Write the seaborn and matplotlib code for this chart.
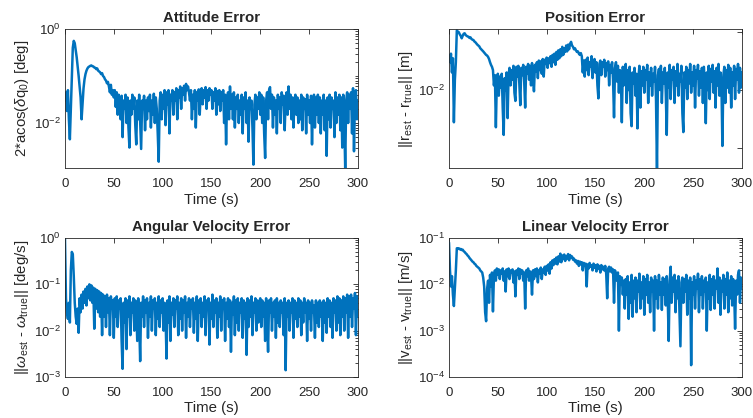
import numpy as np
import pandas as pd
import matplotlib
matplotlib.use('Agg')
import matplotlib.pyplot as plt
from matplotlib.ticker import NullFormatter
import seaborn as sns

TITLE_FONTSIZE = 10.8
AX_LABEL_FONTSIZE = 10.8
TICK_FONTSIZE = 9.5
LINE_COLOR = '#0072BD'
AX_COLOR = '#262626'

# sample times (1 s)
time_s = np.arange(0, 301)

att_err = [
    0.030, 0.045, 0.018, 0.050, 0.012, 0.0045, 0.020, 0.10, 0.40, 0.56,
    0.50, 0.36, 0.25, 0.16, 0.10, 0.060, 0.035, 0.012, 0.025, 0.055,
    0.085, 0.11, 0.13, 0.145, 0.155, 0.16, 0.165, 0.168, 0.162, 0.16,
    0.152, 0.15, 0.14, 0.145, 0.13, 0.125, 0.12, 0.11, 0.115, 0.10,
    0.095, 0.085, 0.080, 0.07, 0.075, 0.06, 0.045, 0.065, 0.04, 0.05,
    0.035, 0.05, 0.022, 0.045, 0.015, 0.04, 0.03, 0.012, 0.038, 0.005,
    0.03, 0.02, 0.04, 0.01, 0.035, 0.008, 0.003, 0.03, 0.015, 0.04,
    0.02, 0.035, 0.009, 0.0035, 0.03, 0.012, 0.04, 0.01, 0.0028, 0.03,
    0.02, 0.038, 0.007, 0.03, 0.012, 0.035, 0.018, 0.04, 0.008, 0.03,
    0.015, 0.042, 0.01, 0.035, 0.02, 0.006, 0.0015, 0.03, 0.045, 0.012,
    0.04, 0.02, 0.05, 0.009, 0.045, 0.025, 0.05, 0.006, 0.04, 0.03,
    0.05, 0.015, 0.045, 0.03, 0.055, 0.012, 0.05, 0.035, 0.06, 0.02,
    0.055, 0.04, 0.062, 0.03, 0.068, 0.05, 0.06, 0.045, 0.03, 0.05,
    0.012, 0.04, 0.02, 0.05, 0.008, 0.045, 0.03, 0.052, 0.015, 0.045,
    0.055, 0.025, 0.05, 0.035, 0.058, 0.02, 0.05, 0.03, 0.055, 0.04,
    0.05, 0.02, 0.045, 0.03, 0.055, 0.015, 0.048, 0.025, 0.05, 0.018,
    0.045, 0.03, 0.05, 0.01, 0.04, 0.0035, 0.03, 0.045, 0.012, 0.06,
    0.02, 0.04, 0.012, 0.045, 0.008, 0.035, 0.02, 0.04, 0.01, 0.03,
    0.015, 0.04, 0.006, 0.035, 0.02, 0.045, 0.01, 0.03, 0.004, 0.035,
    0.02, 0.03, 0.008, 0.0013, 0.025, 0.04, 0.012, 0.035, 0.02, 0.045,
    0.015, 0.04, 0.01, 0.035, 0.006, 0.0018, 0.03, 0.045, 0.012, 0.05,
    0.058, 0.02, 0.04, 0.008, 0.035, 0.015, 0.03, 0.006, 0.04, 0.02,
    0.035, 0.01, 0.045, 0.025, 0.038, 0.007, 0.03, 0.045, 0.015, 0.06,
    0.02, 0.04, 0.012, 0.035, 0.008, 0.03, 0.04, 0.015, 0.035, 0.01,
    0.03, 0.012, 0.04, 0.007, 0.035, 0.02, 0.032, 0.006, 0.04, 0.015,
    0.03, 0.01, 0.038, 0.0035, 0.025, 0.04, 0.008, 0.035, 0.015, 0.04,
    0.01, 0.035, 0.006, 0.03, 0.015, 0.04, 0.007, 0.03, 0.002, 0.035,
    0.012, 0.04, 0.008, 0.035, 0.02, 0.03, 0.005, 0.045, 0.01, 0.035,
    0.015, 0.04, 0.007, 0.035, 0.003, 0.04, 0.012, 0.0011, 0.03, 0.045,
    0.01, 0.04, 0.02, 0.045, 0.006, 0.055, 0.0025, 0.035, 0.05, 0.012,
    0.03,
]

pos_err = [
    0.040, 0.030, 0.042, 0.020, 0.035, 0.0028, 0.015, 0.030, 0.105, 0.10,
    0.098, 0.090, 0.085, 0.077, 0.085, 0.092, 0.094, 0.088, 0.085, 0.083,
    0.082, 0.078, 0.080, 0.075, 0.073, 0.072, 0.068, 0.066, 0.063, 0.060,
    0.058, 0.056, 0.052, 0.050, 0.048, 0.046, 0.044, 0.042, 0.040, 0.039,
    0.037, 0.034, 0.030, 0.027, 0.025, 0.022, 0.012, 0.018, 0.0023, 0.015,
    0.019, 0.008, 0.017, 0.011, 0.019, 0.005, 0.0017, 0.016, 0.010, 0.020,
    0.0033, 0.018, 0.024, 0.012, 0.022, 0.015, 0.026, 0.009, 0.0065, 0.025,
    0.017, 0.026, 0.013, 0.0055, 0.024, 0.018, 0.027, 0.014, 0.005, 0.025,
    0.019, 0.028, 0.015, 0.026, 0.012, 0.029, 0.018, 0.0095, 0.027, 0.021,
    0.030, 0.016, 0.032, 0.022, 0.031, 0.019, 0.034, 0.017, 0.033, 0.028,
    0.036, 0.024, 0.035, 0.029, 0.038, 0.025, 0.040, 0.030, 0.042, 0.027,
    0.045, 0.033, 0.048, 0.035, 0.050, 0.038, 0.055, 0.040, 0.052, 0.045,
    0.058, 0.046, 0.060, 0.050, 0.062, 0.067, 0.058, 0.055, 0.050, 0.052,
    0.048, 0.045, 0.046, 0.042, 0.040, 0.043, 0.038, 0.020, 0.032, 0.017,
    0.033, 0.022, 0.036, 0.018, 0.030, 0.025, 0.038, 0.016, 0.028, 0.034,
    0.020, 0.030, 0.012, 0.0072, 0.028, 0.032, 0.018, 0.030, 0.025, 0.033,
    0.017, 0.029, 0.022, 0.031, 0.012, 0.027, 0.020, 0.030, 0.015, 0.0034,
    0.024, 0.030, 0.014, 0.026, 0.009, 0.022, 0.018, 0.0028, 0.025, 0.012,
    0.020, 0.028, 0.006, 0.022, 0.010, 0.025, 0.004, 0.0024, 0.020, 0.013,
    0.024, 0.008, 0.019, 0.0022, 0.016, 0.026, 0.005, 0.021, 0.012, 0.025,
    0.009, 0.022, 0.015, 0.027, 0.006, 0.020, 0.012, 0.024, 0.008, 0.019,
    0.014, 0.025, 0.007, 0.0004, 0.018, 0.023, 0.010, 0.026, 0.006, 0.020,
    0.013, 0.024, 0.009, 0.0017, 0.020, 0.011, 0.027, 0.007, 0.022, 0.015,
    0.025, 0.006, 0.021, 0.012, 0.028, 0.008, 0.019, 0.014, 0.026, 0.004,
    0.0019, 0.020, 0.011, 0.025, 0.007, 0.022, 0.013, 0.028, 0.009, 0.020,
    0.012, 0.026, 0.005, 0.022, 0.016, 0.027, 0.008, 0.021, 0.011, 0.024,
    0.006, 0.025, 0.013, 0.0027, 0.020, 0.010, 0.026, 0.007, 0.023, 0.014,
    0.027, 0.009, 0.021, 0.005, 0.024, 0.012, 0.028, 0.008, 0.020, 0.013,
    0.0011, 0.018, 0.025, 0.006, 0.022, 0.011, 0.027, 0.009, 0.024, 0.005,
    0.020, 0.012, 0.026, 0.007, 0.023, 0.015, 0.028, 0.009, 0.024, 0.011,
    0.020,
]

angvel_err = [
    0.95, 0.05, 0.025, 0.018, 0.04, 0.015, 0.2, 0.5, 0.45, 0.15,
    0.04, 0.02, 0.014, 0.03, 0.009, 0.05, 0.025, 0.06, 0.03, 0.07,
    0.04, 0.08, 0.035, 0.09, 0.05, 0.10, 0.045, 0.095, 0.04, 0.085,
    0.011, 0.08, 0.03, 0.075, 0.025, 0.07, 0.02, 0.065, 0.008, 0.06,
    0.02, 0.055, 0.012, 0.06, 0.025, 0.05, 0.008, 0.055, 0.03, 0.045,
    0.007, 0.05, 0.02, 0.055, 0.012, 0.045, 0.03, 0.05, 0.006, 0.0015,
    0.04, 0.015, 0.05, 0.004, 0.045, 0.02, 0.055, 0.008, 0.04, 0.025,
    0.05, 0.01, 0.045, 0.03, 0.006, 0.05, 0.015, 0.0022, 0.04, 0.02,
    0.055, 0.012, 0.045, 0.025, 0.05, 0.007, 0.04, 0.02, 0.055, 0.01,
    0.045, 0.03, 0.05, 0.008, 0.04, 0.018, 0.055, 0.012, 0.045, 0.025,
    0.05, 0.01, 0.04, 0.02, 0.0025, 0.045, 0.015, 0.055, 0.006, 0.04,
    0.022, 0.05, 0.012, 0.045, 0.03, 0.055, 0.008, 0.04, 0.018, 0.05,
    0.01, 0.045, 0.025, 0.055, 0.007, 0.04, 0.02, 0.05, 0.012, 0.045,
    0.03, 0.05, 0.009, 0.04, 0.018, 0.055, 0.006, 0.045, 0.025, 0.05,
    0.012, 0.04, 0.02, 0.055, 0.008, 0.045, 0.03, 0.05, 0.005, 0.04,
    0.018, 0.06, 0.012, 0.045, 0.025, 0.05, 0.007, 0.04, 0.02, 0.055,
    0.01, 0.045, 0.03, 0.05, 0.006, 0.04, 0.018, 0.05, 0.012, 0.045,
    0.0035, 0.04, 0.022, 0.055, 0.008, 0.045, 0.015, 0.05, 0.01, 0.04,
    0.025, 0.05, 0.007, 0.045, 0.018, 0.04, 0.003, 0.05, 0.012, 0.045,
    0.02, 0.055, 0.008, 0.04, 0.025, 0.05, 0.01, 0.045, 0.015, 0.04,
    0.05, 0.012, 0.045, 0.02, 0.04, 0.006, 0.05, 0.015, 0.0035, 0.045,
    0.025, 0.05, 0.01, 0.04, 0.02, 0.045, 0.007, 0.05, 0.015, 0.04,
    0.012, 0.045, 0.025, 0.04, 0.008, 0.05, 0.0014, 0.04, 0.02, 0.045,
    0.01, 0.04, 0.025, 0.05, 0.007, 0.045, 0.018, 0.04, 0.012, 0.05,
    0.02, 0.045, 0.008, 0.04, 0.015, 0.05, 0.025, 0.04, 0.006, 0.045,
    0.018, 0.04, 0.01, 0.045, 0.025, 0.035, 0.007, 0.045, 0.015, 0.04,
    0.012, 0.045, 0.02, 0.04, 0.006, 0.045, 0.015, 0.04, 0.009, 0.05,
    0.02, 0.045, 0.012, 0.04, 0.007, 0.05, 0.025, 0.045, 0.01, 0.055,
    0.015, 0.05, 0.008, 0.045, 0.02, 0.055, 0.01, 0.05, 0.025, 0.06,
    0.007, 0.055, 0.02, 0.06, 0.012, 0.05, 0.03, 0.065, 0.008, 0.055,
    0.02,
]

linvel_err = [
    0.08, 0.02, 0.009, 0.015, 0.006, 0.0034, 0.008, 0.02, 0.06, 0.058,
    0.06, 0.057, 0.058, 0.055, 0.056, 0.052, 0.05, 0.047, 0.045, 0.042,
    0.04, 0.037, 0.035, 0.033, 0.031, 0.03, 0.028, 0.027, 0.025, 0.024,
    0.023, 0.022, 0.02, 0.019, 0.018, 0.014, 0.009, 0.0025, 0.0016, 0.008,
    0.012, 0.004, 0.016, 0.009, 0.018, 0.0026, 0.015, 0.02, 0.012, 0.022,
    0.016, 0.021, 0.013, 0.02, 0.017, 0.022, 0.012, 0.019, 0.007, 0.021,
    0.015, 0.022, 0.013, 0.02, 0.018, 0.021, 0.011, 0.019, 0.0055, 0.02,
    0.016, 0.022, 0.013, 0.021, 0.017, 0.02, 0.012, 0.018, 0.003, 0.02,
    0.015, 0.022, 0.012, 0.019, 0.016, 0.006, 0.02, 0.013, 0.021, 0.015,
    0.022, 0.011, 0.02, 0.017, 0.023, 0.013, 0.021, 0.018, 0.024, 0.016,
    0.025, 0.02, 0.027, 0.017, 0.03, 0.022, 0.033, 0.026, 0.035, 0.028,
    0.038, 0.027, 0.04, 0.031, 0.046, 0.03, 0.042, 0.035, 0.044, 0.032,
    0.041, 0.036, 0.045, 0.033, 0.043, 0.038, 0.04, 0.034, 0.036, 0.031,
    0.033, 0.028, 0.032, 0.025, 0.031, 0.027, 0.03, 0.02, 0.029, 0.026,
    0.028, 0.009, 0.027, 0.022, 0.029, 0.024, 0.026, 0.02, 0.028, 0.023,
    0.026, 0.019, 0.027, 0.022, 0.025, 0.018, 0.026, 0.021, 0.024, 0.02,
    0.025, 0.017, 0.005, 0.022, 0.024, 0.019, 0.023, 0.018, 0.021, 0.004,
    0.02, 0.016, 0.012, 0.018, 0.001, 0.015, 0.01, 0.014, 0.006, 0.012,
    0.003, 0.013, 0.006, 0.015, 0.0018, 0.011, 0.004, 0.016, 0.002, 0.012,
    0.005, 0.014, 0.0025, 0.012, 0.007, 0.017, 0.003, 0.011, 0.005, 0.015,
    0.0022, 0.013, 0.006, 0.016, 0.004, 0.011, 0.0025, 0.014, 0.007, 0.012,
    0.001, 0.015, 0.005, 0.012, 0.003, 0.016, 0.006, 0.011, 0.0028, 0.014,
    0.006, 0.013, 0.0035, 0.015, 0.005, 0.0006, 0.012, 0.024, 0.004, 0.014,
    0.007, 0.016, 0.0025, 0.012, 0.005, 0.015, 0.0028, 0.00046, 0.011, 0.014,
    0.004, 0.013, 0.007, 0.016, 0.0022, 0.012, 0.005, 0.014, 0.00018, 0.011,
    0.006, 0.015, 0.003, 0.012, 0.008, 0.017, 0.0025, 0.013, 0.006, 0.015,
    0.003, 0.012, 0.007, 0.014, 0.001, 0.011, 0.005, 0.016, 0.0028, 0.013,
    0.006, 0.015, 0.003, 0.012, 0.008, 0.022, 0.004, 0.014, 0.0022, 0.012,
    0.007, 0.016, 0.003, 0.013, 0.006, 0.018, 0.0025, 0.012, 0.005, 0.015,
    0.0035, 0.013, 0.007, 0.0011, 0.012, 0.006, 0.016, 0.02, 0.004, 0.014,
    0.008,
]

titles = ['Attitude Error', 'Position Error',
          'Angular Velocity Error', 'Linear Velocity Error']
ylabels = [r'2*acos($\delta$q$_0$) [deg]',
           r'||r$_{\mathrm{est}}$ - r$_{\mathrm{true}}$|| [m]',
           r'||$\omega_{\mathrm{est}}$ - $\omega_{\mathrm{true}}$|| [deg/s]',
           r'||v$_{\mathrm{est}}$ - v$_{\mathrm{true}}$|| [m/s]']
series = [att_err, pos_err, angvel_err, linvel_err]
xticks = [0, 50, 100, 150, 200, 250, 300]


def minor_log_ticks(lo, hi, majors):
    out = []
    for e in range(-5, 1):
        for k in range(1, 10):
            v = k * 10.0 ** e
            if lo <= v <= hi and not any(np.isclose(v, m) for m in majors):
                out.append(v)
    return out


# axes settings per panel: rect (fig coords), ylim, major ticks, labelled majors, minors on
panel_cfg = [
    dict(rect=[0.0863, 0.598, 0.389, 0.3325], ylim=(1.1e-3, 1.0),
         majors=[1e-2, 1.0], labels=[1e-2, 1.0], minors=True),
    dict(rect=[0.5963, 0.598, 0.389, 0.3325], ylim=(4.6e-4, 0.111),
         majors=[1e-3, 1e-2, 1e-1], labels=[1e-2], minors=False),
    dict(rect=[0.0863, 0.0981, 0.389, 0.3325], ylim=(1e-3, 1.0),
         majors=[1e-3, 1e-2, 1e-1, 1.0], labels=[1e-3, 1e-2, 1e-1, 1.0], minors=True),
    dict(rect=[0.5963, 0.0981, 0.389, 0.3325], ylim=(1e-4, 0.1),
         majors=[1e-4, 1e-3, 1e-2, 1e-1], labels=[1e-4, 1e-3, 1e-2, 1e-1], minors=True),
]

if __name__ == '__main__':
    sns.set_theme(style='white')
    plt.rcParams['font.family'] = ['Liberation Sans', 'DejaVu Sans']
    plt.rcParams.update({
        'mathtext.fontset': 'custom',
        'mathtext.rm': 'Liberation Sans',
        'mathtext.it': 'Liberation Sans:italic',
        'mathtext.bf': 'Liberation Sans:bold',
        'axes.edgecolor': AX_COLOR,
        'axes.linewidth': 0.6,
        'text.color': AX_COLOR,
        'axes.labelcolor': AX_COLOR,
    })

    fig = plt.figure(figsize=(7.53, 4.18), dpi=100)

    for vals, title, ylab, cfg in zip(series, titles, ylabels, panel_cfg):
        assert len(vals) == len(time_s)
        df = pd.DataFrame({'Time': time_s, 'Err': vals})
        ax = fig.add_axes(cfg['rect'])
        sns.lineplot(ax=ax, x='Time', y='Err', data=df, color=LINE_COLOR,
                     linewidth=1.8, estimator=None)
        ax.set_yscale('log')
        ax.set_xlim(0, 300)
        ax.set_ylim(*cfg['ylim'])
        ax.set_xticks(xticks)
        ax.set_xticklabels([str(x) for x in xticks])
        ax.set_yticks(cfg['majors'])
        ax.set_yticklabels([r'$\mathdefault{10^{%d}}$' % round(np.log10(m))
                            if m in cfg['labels'] else '' for m in cfg['majors']])
        if cfg['minors']:
            ax.set_yticks(minor_log_ticks(cfg['ylim'][0], cfg['ylim'][1], cfg['majors']),
                          minor=True)
        else:
            ax.set_yticks([], minor=True)
        ax.yaxis.set_minor_formatter(NullFormatter())
        ax.tick_params(which='both', direction='in', top=True, right=True,
                       color=AX_COLOR, labelcolor=AX_COLOR, width=0.6,
                       labelsize=TICK_FONTSIZE)
        ax.tick_params(which='major', length=3.5)
        ax.tick_params(which='minor', length=2)
        ax.tick_params(axis='x', pad=7)
        ax.tick_params(axis='y', pad=3)
        ax.set_xlabel('Time (s)', fontsize=AX_LABEL_FONTSIZE, labelpad=2)
        ax.set_ylabel(ylab, fontsize=AX_LABEL_FONTSIZE, labelpad=2)
        ax.set_title(title, fontsize=TITLE_FONTSIZE, fontweight='bold', pad=5)
        for sp in ax.spines.values():
            sp.set_visible(True)
            sp.set_color(AX_COLOR)

    fig.savefig('out.png', dpi=100)
